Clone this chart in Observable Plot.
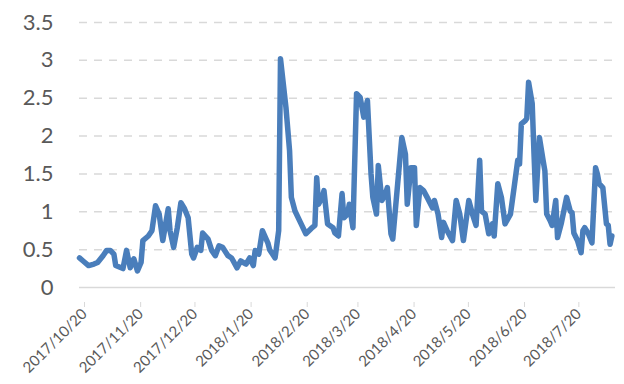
<!DOCTYPE html>
<html>
<head>
<meta charset="utf-8">
<script src="https://cdn.jsdelivr.net/npm/d3@7"></script>
<script src="https://cdn.jsdelivr.net/npm/@observablehq/plot@0.6"></script>
<style>
  html, body { margin: 0; padding: 0; background: #ffffff; }
  #chart svg { display: block; }
</style>
</head>
<body>
<div id="chart"></div>
<script>
// Series: dates and values
const dates = [
  "2017-10-20","2017-10-22","2017-10-25","2017-10-28","2017-10-30",
  "2017-11-02","2017-11-04","2017-11-06","2017-11-08","2017-11-09","2017-11-12","2017-11-13",
  "2017-11-15","2017-11-17","2017-11-19","2017-11-21","2017-11-23","2017-11-24","2017-11-27",
  "2017-11-29","2017-12-01","2017-12-03","2017-12-05","2017-12-08","2017-12-09","2017-12-11",
  "2017-12-13","2017-12-15","2017-12-17","2017-12-19","2017-12-21","2017-12-22","2017-12-24",
  "2017-12-26","2017-12-27","2017-12-30","2018-01-01","2018-01-03","2018-01-05","2018-01-07",
  "2018-01-10","2018-01-12","2018-01-15","2018-01-17","2018-01-20","2018-01-22","2018-01-24",
  "2018-01-25","2018-01-27","2018-01-29","2018-02-01","2018-02-02","2018-02-05","2018-02-07",
  "2018-02-08","2018-02-11","2018-02-13","2018-02-14","2018-02-16","2018-02-19","2018-02-22",
  "2018-02-25","2018-02-27","2018-02-28","2018-03-01","2018-03-03","2018-03-04","2018-03-06",
  "2018-03-09","2018-03-10","2018-03-12","2018-03-14","2018-03-15","2018-03-17","2018-03-18",
  "2018-03-20","2018-03-22","2018-03-24","2018-03-26","2018-03-28","2018-03-30","2018-03-31",
  "2018-04-02","2018-04-03","2018-04-05","2018-04-07","2018-04-08","2018-04-10","2018-04-11",
  "2018-04-14","2018-04-16","2018-04-18","2018-04-19","2018-04-21","2018-04-23","2018-04-24",
  "2018-04-26","2018-04-28","2018-04-30","2018-05-03","2018-05-04","2018-05-06","2018-05-08",
  "2018-05-09","2018-05-11","2018-05-14","2018-05-16","2018-05-18","2018-05-20","2018-05-23",
  "2018-05-25","2018-05-27","2018-05-29","2018-05-30","2018-06-01","2018-06-03","2018-06-05",
  "2018-06-06","2018-06-08","2018-06-10","2018-06-12","2018-06-15","2018-06-17","2018-06-19",
  "2018-06-20","2018-06-21","2018-06-23","2018-06-24","2018-06-25","2018-06-27","2018-06-28",
  "2018-06-29","2018-07-01","2018-07-03","2018-07-04","2018-07-05","2018-07-07","2018-07-08",
  "2018-07-10","2018-07-11","2018-07-13","2018-07-16","2018-07-18","2018-07-19","2018-07-20",
  "2018-07-22","2018-07-24","2018-07-25","2018-07-26","2018-07-28","2018-07-30","2018-08-01",
  "2018-08-02","2018-08-03","2018-08-05","2018-08-07","2018-08-08","2018-08-09","2018-08-10"
];
const values = [
  0.39,0.35,0.29,0.31,0.33,
  0.42,0.49,0.49,0.44,0.29,0.26,0.25,
  0.49,0.26,0.38,0.22,0.33,0.62,0.68,
  0.75,1.08,0.97,0.62,1.04,0.75,0.53,
  0.79,1.12,1.04,0.92,0.44,0.39,0.53,
  0.49,0.72,0.64,0.49,0.42,0.55,0.53,
  0.42,0.39,0.26,0.35,0.31,0.39,0.29,
  0.49,0.44,0.75,0.59,0.50,0.39,0.75,
  3.02,2.38,1.81,1.19,1.01,0.86,0.71,
  0.78,0.82,1.45,1.10,1.19,1.28,0.84,
  0.79,0.72,0.68,1.24,0.92,0.97,1.10,
  0.79,2.56,2.51,2.25,2.47,1.50,1.19,
  0.97,1.61,1.15,1.24,1.32,0.71,0.64,
  1.45,1.98,1.76,1.10,1.58,1.58,0.82,
  1.32,1.28,1.19,1.05,1.15,0.97,0.66,
  0.86,0.75,0.62,1.15,0.97,0.62,1.15,
  0.97,0.82,1.68,1.01,0.97,0.71,0.84,
  0.68,1.37,1.19,0.84,0.97,1.32,1.68,
  1.63,2.16,2.20,2.23,2.71,2.43,1.76,
  1.15,1.98,1.68,1.54,0.97,0.88,0.82,
  1.15,0.66,0.84,1.19,1.01,0.99,0.72,
  0.62,0.46,0.75,0.79,0.71,0.59,1.58,
  1.50,1.37,1.32,0.84,0.82,0.57,0.68
];
const yTicks = [0, 0.5, 1, 1.5, 2, 2.5, 3, 3.5];
const yTickLabels = ["0", "0.5", "1", "1.5", "2", "2.5", "3", "3.5"];
const xTickDates = ["2017-10-20","2017-11-20","2017-12-20","2018-01-20","2018-02-20",
                    "2018-03-20","2018-04-20","2018-05-20","2018-06-20","2018-07-20"];
const xTickLabels = ["2017/10/20","2017/11/20","2017/12/20","2018/1/20","2018/2/20",
                     "2018/3/20","2018/4/20","2018/5/20","2018/6/20","2018/7/20"];

const data = dates.map((d, i) => ({date: new Date(d + "T00:00:00Z"), value: values[i]}));
const xTicks = xTickDates.map(d => new Date(d + "T00:00:00Z"));

const chart = Plot.plot({
  width: 624,
  height: 384,
  marginLeft: 79,
  marginRight: 9,
  marginTop: 22,
  marginBottom: 97,
  style: {fontFamily: "Lato, 'Liberation Sans', sans-serif", color: "#595959", background: "#ffffff"},
  x: {type: "utc", domain: [new Date("2017-10-20T00:00:00Z"), new Date("2018-08-12T00:00:00Z")]},
  y: {domain: [0, 3.5]},
  marks: [
    Plot.gridY(yTicks.filter(v => v > 0), {stroke: "#d9d9d9", strokeOpacity: 1, strokeWidth: 1.5, strokeDasharray: "8,7"}),
    Plot.ruleY([0], {stroke: "#d9d9d9", strokeWidth: 1.5}),
    Plot.axisY({ticks: yTicks, tickSize: 0, tickPadding: 26, fontSize: 22,
                tickFormat: (d) => yTickLabels[yTicks.indexOf(d)], label: null}),
    Plot.axisX({ticks: xTicks, tickSize: 5, stroke: "#d9d9d9", strokeOpacity: 1, tickRotate: -45,
                tickPadding: 4, fontSize: 15, dx: 5, dy: 15,
                tickFormat: (d) => xTickLabels[xTicks.findIndex(t => +t === +d)], label: null}),
    Plot.line(data, {x: "date", y: "value", stroke: "#4a7ebb", strokeWidth: 5.5,
                     strokeLinejoin: "round", strokeLinecap: "round"})
  ]
});
document.getElementById("chart").appendChild(chart);
</script>
</body>
</html>
